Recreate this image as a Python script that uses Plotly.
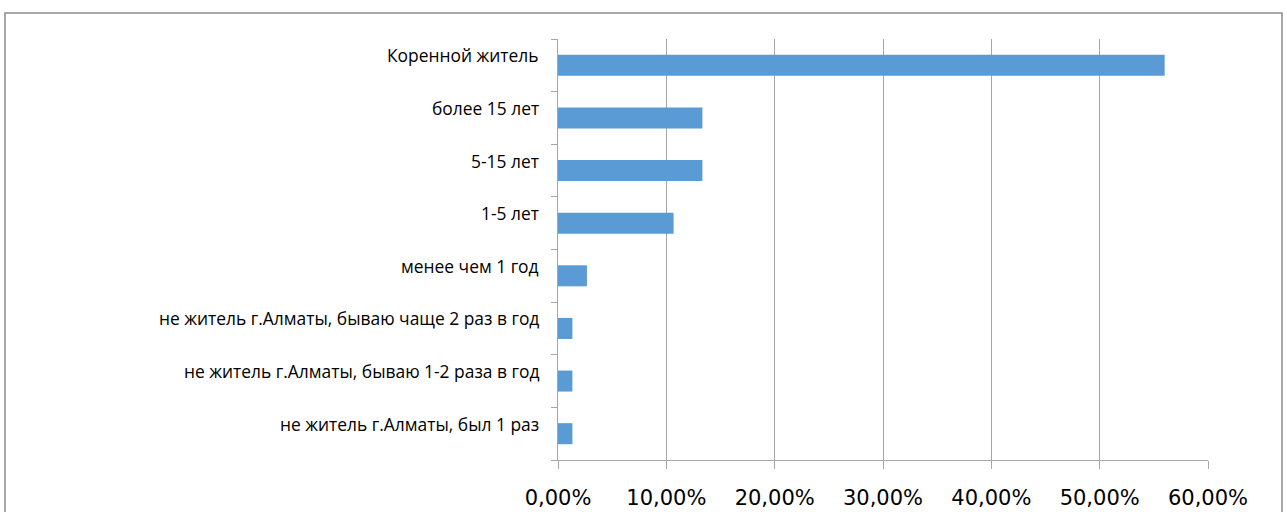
import plotly.graph_objects as go

# Duration of residence in Almaty, share of respondents
categories = [
    "Коренной житель",
    "более 15 лет",
    "5-15 лет",
    "1-5 лет",
    "менее чем 1 год",
    "не житель г.Алматы, бываю чаще 2 раз в год",
    "не житель г.Алматы, бываю 1-2 раза в год",
    "не житель г.Алматы, был 1 раз",
]
shares = [0.56, 0.1333, 0.1333, 0.1067, 0.0267, 0.0133, 0.0133, 0.0133]
x_ticks = [0, 0.1, 0.2, 0.3, 0.4, 0.5, 0.6]

W, H = 1287, 512
L, R, T, B = 558, 79, 39, 52
pw, ph = W - L - R, H - T - B

fig = go.Figure(
    go.Bar(
        x=shares,
        y=categories,
        orientation="h",
        marker=dict(color="#5b9bd5", line=dict(width=0)),
        width=0.4,
    )
)

# category labels sit slightly above their bars
for cat in categories:
    fig.add_annotation(
        x=0, y=cat, xref="x", yref="y",
        text=cat, showarrow=False,
        xanchor="right", yanchor="middle",
        xshift=-17, yshift=10,
        font=dict(family="Open Sans", size=17.4, color="#000000"),
    )

# outer chart frame
fig.add_shape(
    type="rect", xref="paper", yref="paper",
    x0=(5 - L) / pw, x1=(1282 - L) / pw,
    y0=-(530 - T - ph) / ph, y1=(T + ph - 13) / ph,
    line=dict(color="#8c8c8c", width=1.5), fillcolor="rgba(0,0,0,0)",
    layer="below",
)

fig.update_layout(
    width=W, height=H,
    margin=dict(l=L, r=R, t=T, b=B),
    paper_bgcolor="white", plot_bgcolor="white",
    separators=", ",
    showlegend=False,
    xaxis=dict(
        range=[0, 0.6], tickvals=x_ticks, tickformat=".2%",
        showgrid=True, gridcolor="#a6a6a6", gridwidth=1,
        showline=True, linecolor="#a6a6a6", linewidth=1,
        ticks="outside", ticklen=8, tickcolor="#a6a6a6",
        ticklabelstandoff=11, automargin=False,
        tickfont=dict(family="DejaVu Sans", size=21, color="#000000"),
        zeroline=False,
    ),
    yaxis=dict(
        categoryorder="array", categoryarray=categories[::-1],
        showticklabels=False, automargin=False,
        showline=True, linecolor="#a6a6a6", linewidth=1,
        ticks="outside", ticklen=6, tickcolor="#a6a6a6",
        tickson="boundaries", showgrid=False, zeroline=False,
    ),
)

fig.write_html("out.html")
